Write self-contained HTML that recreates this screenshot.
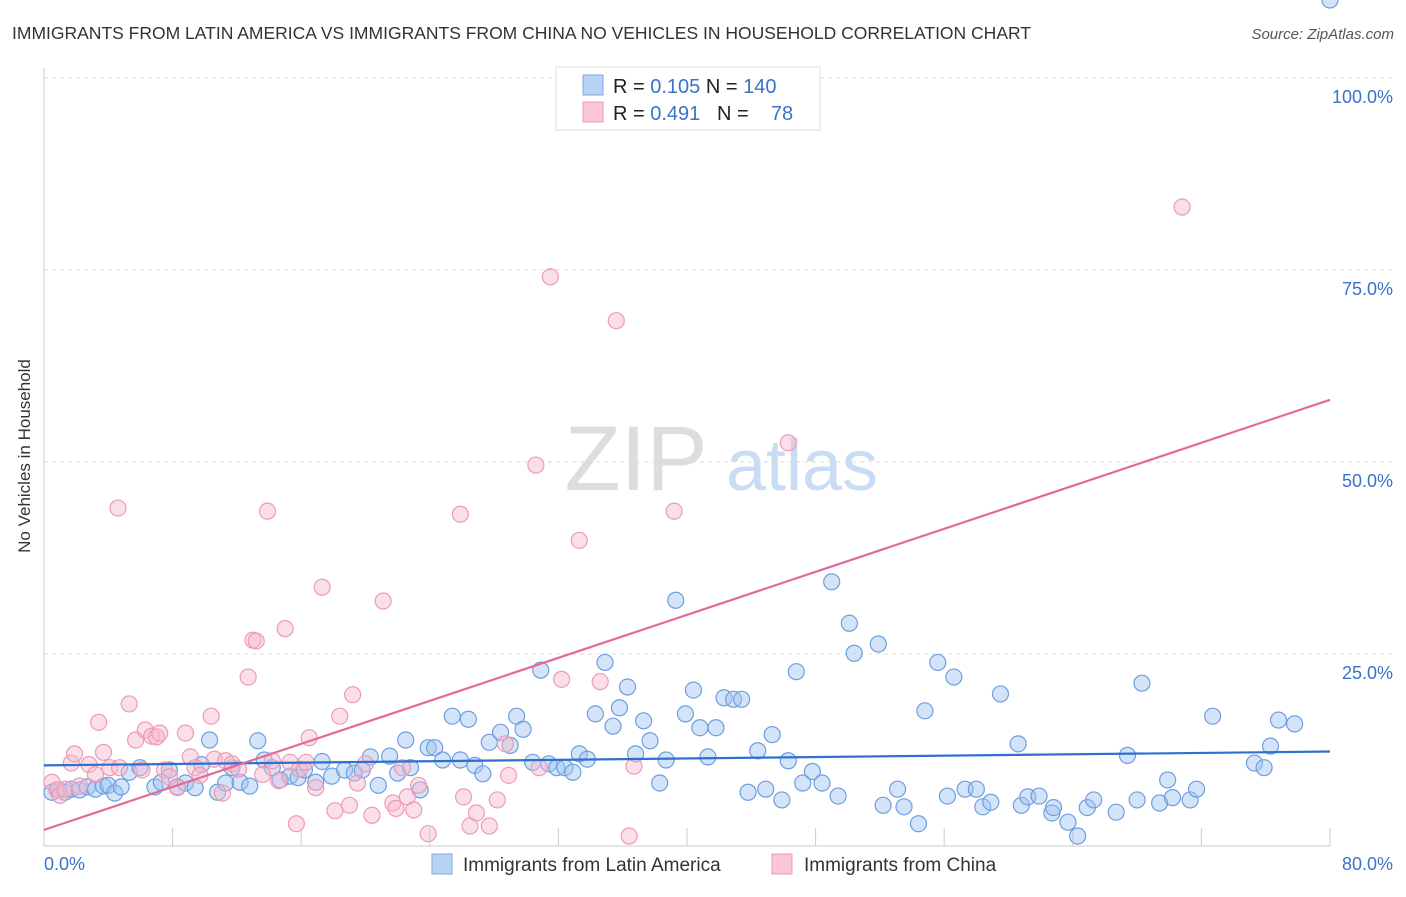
<!DOCTYPE html>
<html><head><meta charset="utf-8"><style>
body{margin:0;background:#fff;font-family:"Liberation Sans",sans-serif}
svg text{font-family:"Liberation Sans",sans-serif}
</style></head><body>
<svg id="c" width="1406" height="892" xmlns="http://www.w3.org/2000/svg">
<text x="12" y="39" font-size="17.5" fill="#333">IMMIGRANTS FROM LATIN AMERICA VS IMMIGRANTS FROM CHINA NO VEHICLES IN HOUSEHOLD CORRELATION CHART</text>
<text x="1394" y="39" font-size="15" fill="#555" font-style="italic" text-anchor="end">Source: ZipAtlas.com</text>
<g><text x="636" y="490" font-size="92" fill="#ddd" font-family="Liberation Serif" text-anchor="middle">ZIP</text><text x="802" y="490" font-size="72" fill="#c9dcf3" text-anchor="middle">atlas</text></g>
<g id="grid"></g><g id="axes"></g><g id="pts"></g><g id="lines"></g>
<text x="30" y="456" font-size="17" fill="#333" text-anchor="middle" transform="rotate(-90 30 456)">No Vehicles in Household</text>
<g>
<rect x="556" y="67" width="264" height="63" fill="#fff" stroke="#ddd"/>
<rect x="583" y="75" width="20" height="20" fill="#b9d3f5" stroke="#7eaae6"/>
<rect x="583" y="102" width="20" height="20" fill="#fbc6d6" stroke="#ef9ab6"/>
<text x="613" y="93" font-size="20" fill="#222">R = <tspan fill="#3a73c9">0.105</tspan>   N = <tspan fill="#3a73c9">140</tspan></text>
<text x="613" y="120" font-size="20" fill="#222" xml:space="preserve">R = <tspan fill="#3a73c9">0.491</tspan>   N =   <tspan fill="#3a73c9"> 78</tspan></text>
</g>
<g>
<rect x="432" y="854" width="20" height="20" fill="#b9d3f5" stroke="#7eaae6"/>
<text x="463" y="871" font-size="19" fill="#333">Immigrants from Latin America</text>
<rect x="772" y="854" width="20" height="20" fill="#fbc6d6" stroke="#ef9ab6"/>
<text x="804" y="871" font-size="19" fill="#333">Immigrants from China</text>
</g>
</svg>
<script>
const blueX=[0.5,0.9,1.3,1.7,2.2,2.7,3.2,3.7,4.0,4.4,4.8,5.3,5.97,6.9,7.3,7.8,8.3,8.8,9.4,9.8,10.3,10.8,11.3,11.7,12.2,12.8,13.3,13.7,14.2,14.7,15.3,15.8,16.2,16.9,17.3,17.9,18.7,19.3,19.8,20.3,20.8,21.5,22.0,22.5,22.8,23.4,23.9,24.3,24.8,25.4,25.9,26.4,26.8,27.3,27.7,28.4,29.0,29.4,29.8,30.4,30.9,31.4,31.9,32.4,32.9,33.3,33.8,34.3,34.9,35.4,35.8,36.3,36.8,37.3,37.7,38.7,38.3,39.3,39.9,40.4,40.8,41.3,41.8,42.3,42.9,43.4,43.8,44.4,44.9,45.3,45.9,46.3,46.8,47.2,47.8,48.4,49.0,49.4,50.1,50.4,51.9,52.2,53.1,53.5,54.4,54.8,55.6,56.2,56.6,57.3,58.0,58.4,58.9,59.5,60.6,60.8,61.2,61.9,62.7,62.8,63.7,64.3,64.9,65.3,66.7,67.4,68.0,68.3,69.4,69.9,70.2,71.3,71.7,72.7,75.3,75.9,76.3,76.8,77.8,80.0];
const blueY=[7.0,7.3,7.0,7.4,7.3,7.7,7.4,7.8,7.9,6.9,7.7,9.6,10.2,7.7,8.3,9.9,7.7,8.2,7.6,10.6,13.8,7.0,8.2,10.2,8.3,7.8,13.7,11.2,10.2,8.6,9.1,8.9,9.9,8.3,11.0,9.1,9.9,9.5,9.9,11.6,7.9,11.7,9.5,13.8,10.2,7.3,12.8,12.8,11.2,16.9,11.2,16.5,10.5,9.4,13.5,14.8,13.1,16.9,15.2,10.9,22.9,10.7,10.2,10.2,9.6,12.0,11.3,17.2,23.9,15.6,18.0,20.7,12.0,16.3,13.7,11.2,8.2,32.0,17.2,20.3,15.4,11.6,15.4,19.3,19.1,19.1,7.0,12.4,7.4,14.5,6.0,11.1,22.7,8.2,9.7,8.2,34.4,6.5,29.0,25.1,26.3,5.3,7.4,5.1,2.9,17.6,23.9,6.5,22.0,7.4,7.4,5.1,5.7,19.8,13.3,5.3,6.4,6.5,4.3,5.0,3.1,1.3,5.0,6.0,4.4,11.8,6.0,21.2,5.6,8.6,6.3,6.0,7.4,16.9,10.8,10.2,13.0,16.4,15.9];
const pinkX=[0.5,0.8,1.0,1.3,1.7,1.9,2.2,2.8,3.2,3.4,3.7,4.1,4.6,4.7,5.3,5.7,6.1,6.3,6.7,7.0,7.2,7.5,7.8,8.3,8.8,9.1,9.4,9.7,10.4,10.6,11.1,11.3,11.7,12.1,12.7,13.0,13.2,13.6,13.9,14.2,14.6,15.0,15.3,15.7,15.9,16.3,16.5,16.9,17.3,18.1,18.4,19.0,19.2,19.5,20.0,20.4,21.1,21.7,21.9,22.3,22.6,23.0,23.3,23.9,25.9,26.1,26.5,26.9,27.7,28.2,28.7,28.9,30.6,30.8,31.5,32.2,33.3,34.6,35.6,36.4,36.7,39.2,46.3,70.8];
const pinkY=[8.3,7.3,6.6,7.4,10.8,12.0,7.8,10.6,9.3,16.1,12.2,10.2,44.0,10.2,18.5,13.8,9.9,15.1,14.3,14.2,14.7,9.9,9.0,7.6,14.7,11.6,10.2,9.2,16.9,11.3,6.9,11.1,10.7,10.0,22.0,26.8,26.7,9.3,43.6,11.1,8.5,28.3,10.9,2.9,10.0,10.9,14.1,7.6,33.7,4.6,16.9,5.3,19.7,8.2,10.7,4.0,31.9,5.6,4.9,10.2,6.4,4.7,7.9,1.6,43.2,6.4,2.6,4.3,2.6,6.0,13.3,9.2,49.6,10.2,74.1,21.7,39.8,21.4,68.4,1.3,10.4,43.6,52.5,83.2];
const blueFit=[10.5,12.3], pinkFit=[2.1,58.1];
const yTicks=[25,50,75,100], yTickLabels=["25.0%","50.0%","75.0%","100.0%"];
const xTicks=[0,8,16,24,32,40,48,56,64,72,80];
const X0=44,X1=1330,Y0=846,Y1=78;
const sx=v=>X0+(v/80)*(X1-X0), sy=v=>Y0-(v/100)*(Y0-Y1);
const NS="http://www.w3.org/2000/svg";
function mk(p,t,a){const e=document.createElementNS(NS,t);for(const k in a)e.setAttribute(k,a[k]);p.appendChild(e);return e;}
const grid=document.getElementById('grid'),axes=document.getElementById('axes'),pts=document.getElementById('pts'),lines=document.getElementById('lines');
yTicks.forEach((t,i)=>{
 const g=mk(grid,'line',{x1:X0,x2:1394,y1:sy(t),y2:sy(t),stroke:'#ddd','stroke-dasharray':'4 4'});
 
 
 const l=mk(grid,'text',{x:1393,y:sy(t)+25,'font-size':18,fill:'#3a73c9','text-anchor':'end'});
 l.textContent=yTickLabels[i];
 
 
});
const ya=mk(axes,'line',{x1:X0,x2:X0,y1:68,y2:Y0,stroke:'#ccc'});


const xa=mk(axes,'line',{x1:X0,x2:X1,y1:Y0,y2:Y0,stroke:'#ccc'});


xTicks.forEach(t=>{
 const k=mk(axes,'line',{x1:sx(t),x2:sx(t),y1:828,y2:Y0,stroke:'#ccc'});
 
 
});
const xl0=mk(axes,'text',{x:44,y:870,'font-size':18,fill:'#3a73c9'});xl0.textContent='0.0%';


const xl1=mk(axes,'text',{x:1393,y:870,'font-size':18,fill:'#3a73c9','text-anchor':'end'});xl1.textContent='80.0%';


blueX.forEach((x,i)=>{
 const c=mk(pts,'circle',{cx:sx(x),cy:sy(blueY[i]),r:8,fill:'rgba(160,196,240,0.45)',stroke:'#6d9ee0','stroke-width':1.2});
 
 
});
pinkX.forEach((x,i)=>{
 const c=mk(pts,'circle',{cx:sx(x),cy:sy(pinkY[i]),r:8,fill:'rgba(246,184,204,0.45)',stroke:'#ee9ab5','stroke-width':1.2});
 
 
});
const bl=mk(lines,'line',{x1:sx(0),x2:sx(80),y1:sy(blueFit[0]),y2:sy(blueFit[1]),stroke:'#2f6fd0','stroke-width':2.2});


const pl=mk(lines,'line',{x1:sx(0),x2:sx(80),y1:sy(pinkFit[0]),y2:sy(pinkFit[1]),stroke:'#e5689a','stroke-width':2.2});


</script>
</body></html>
